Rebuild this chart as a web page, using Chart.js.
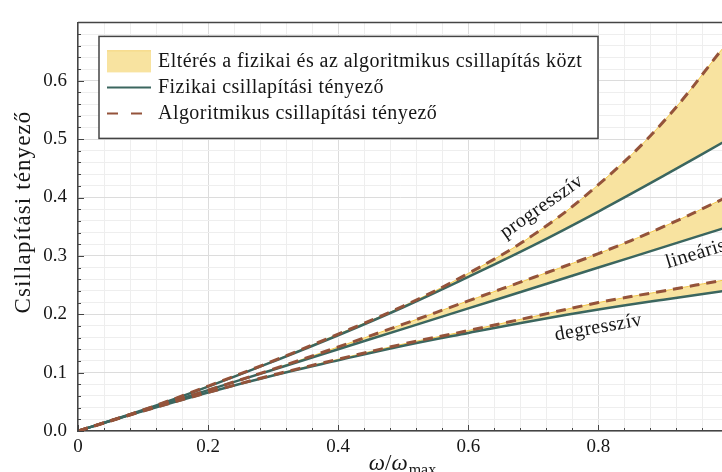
<!DOCTYPE html>
<html>
<head>
<meta charset="utf-8">
<script src="https://cdn.jsdelivr.net/npm/chart.js@4.4.0/dist/chart.umd.min.js"></script>
<style>
html, body { margin: 0; padding: 0; background: #fff; }
#wrap { width: 722px; height: 472px; }
</style>
</head>
<body>
<div id="wrap"><canvas id="chart" width="722" height="472"></canvas></div>
<script>
// omega / omega_max
var omega = [0, 0.1, 0.2, 0.3, 0.4, 0.5, 0.6, 0.7, 0.8, 0.9, 1.0];

// physical vs. algorithmic damping, three characteristics
var progPhys = [0, 0.036, 0.076, 0.119, 0.164, 0.212, 0.264, 0.318, 0.376, 0.437, 0.500];
var progAlg  = [0, 0.036, 0.077, 0.120, 0.166, 0.214, 0.270, 0.336, 0.422, 0.530, 0.668];
var linPhys  = [0, 0.035, 0.070, 0.105, 0.140, 0.175, 0.210, 0.245, 0.280, 0.315, 0.350];
var linAlg   = [0, 0.035, 0.070, 0.106, 0.144, 0.183, 0.223, 0.263, 0.304, 0.350, 0.402];
var degPhys  = [0, 0.034, 0.066, 0.095, 0.121, 0.146, 0.168, 0.189, 0.208, 0.225, 0.241];
var degAlg   = [0, 0.034, 0.066, 0.096, 0.123, 0.149, 0.172, 0.196, 0.220, 0.240, 0.260];

var curveNames = ['progresszív', 'lineáris', 'degresszív'];
// where each curve name sits: [x, y, angle in degrees]
var curveNamePos = [[0.713, 0.384, -35], [0.950, 0.303, -17], [0.800, 0.177, -10]];

var legendLabels = [
  'Eltérés a fizikai és az algoritmikus csillapítás közt',
  'Fizikai csillapítási tényező',
  'Algoritmikus csillapítási tényező'
];

var xLabelValues = [0, 0.2, 0.4, 0.6, 0.8];
var xLabelText = ['0', '0.2', '0.4', '0.6', '0.8'];
var yLabelValues = [0, 0.1, 0.2, 0.3, 0.4, 0.5, 0.6];
var yLabelText = ['0.0', '0.1', '0.2', '0.3', '0.4', '0.5', '0.6'];

var yTitle = 'Csillapítási tényező';

var SERIF = '"Liberation Serif", "DejaVu Serif", serif';
var PHYS_COLOR = '#3b665f';
var ALG_COLOR = '#94533a';
var BAND_COLOR = '#f8e3a0';
var BAND_EDGE = '#f2c649';
var AXIS_COLOR = '#444444';
var TEXT_COLOR = '#161616';

function toPoints(xs, ys) {
  var pts = [];
  for (var i = 0; i < xs.length; i++) {
    pts.push({x: xs[i], y: ys[i]});
  }
  return pts;
}

function stepTicks(max, step) {
  var list = [];
  var n = Math.round(max / step);
  for (var i = 0; i <= n; i++) {
    list.push({value: Math.round(i * step * 1000) / 1000});
  }
  return list;
}

function findLabel(value, values, texts) {
  for (var i = 0; i < values.length; i++) {
    if (Math.abs(values[i] - value) < 1e-6) return texts[i];
  }
  return '';
}

function isMajor(value, values) {
  for (var i = 0; i < values.length; i++) {
    if (Math.abs(values[i] - value) < 1e-6) return true;
  }
  return false;
}

function spacedText(ctx, text, x, y, spacing) {
  if ('letterSpacing' in ctx) {
    ctx.letterSpacing = spacing + 'px';
    ctx.fillText(text, x, y);
    ctx.letterSpacing = '0px';
  } else {
    ctx.fillText(text, x, y);
  }
}

var physSets = [progPhys, linPhys, degPhys];
var algSets = [progAlg, linAlg, degAlg];
var datasets = [];
var i;

for (i = 0; i < 3; i++) {
  datasets.push({
    label: legendLabels[1],
    data: toPoints(omega, physSets[i]),
    borderColor: PHYS_COLOR,
    borderWidth: 2.5,
    pointRadius: 0,
    fill: false,
    tension: 0.4,
    order: 1
  });
}
for (i = 0; i < 3; i++) {
  datasets.push({
    label: legendLabels[2],
    data: toPoints(omega, algSets[i]),
    borderColor: ALG_COLOR,
    borderWidth: 3,
    borderDash: [10, 7],
    pointRadius: 0,
    fill: false,
    tension: 0.4,
    order: 0
  });
}
for (i = 0; i < 3; i++) {
  datasets.push({
    label: legendLabels[0],
    data: toPoints(omega, algSets[i]),
    borderColor: BAND_EDGE,
    borderWidth: 1,
    backgroundColor: BAND_COLOR,
    pointRadius: 0,
    fill: {target: i, above: BAND_COLOR, below: BAND_COLOR},
    tension: 0.4,
    order: 2
  });
}

var decorations = {
  id: 'decorations',
  afterDraw: function(chart) {
    var ctx = chart.ctx;
    var area = chart.chartArea;
    var xs = chart.scales.x;
    var ys = chart.scales.y;
    var k;

    ctx.save();
    // inward tick marks
    ctx.strokeStyle = AXIS_COLOR;
    ctx.lineWidth = 1;
    ctx.beginPath();
    xs.ticks.forEach(function(t) {
      var px = Math.round(xs.getPixelForValue(t.value)) + 0.5;
      var len = isMajor(t.value, xLabelValues) ? 6 : 3;
      ctx.moveTo(px, area.bottom);
      ctx.lineTo(px, area.bottom - len);
    });
    ys.ticks.forEach(function(t) {
      var py = Math.round(ys.getPixelForValue(t.value)) + 0.5;
      var len = isMajor(t.value, yLabelValues) ? 6 : 3;
      ctx.moveTo(area.left, py);
      ctx.lineTo(area.left + len, py);
    });
    ctx.stroke();

    // top frame line
    ctx.lineWidth = 1.5;
    ctx.beginPath();
    ctx.moveTo(area.left, area.top);
    ctx.lineTo(area.right, area.top);
    ctx.stroke();

    // curve names
    ctx.fillStyle = TEXT_COLOR;
    ctx.font = '20px ' + SERIF;
    ctx.textAlign = 'center';
    ctx.textBaseline = 'middle';
    for (k = 0; k < curveNames.length; k++) {
      var p = curveNamePos[k];
      ctx.save();
      ctx.translate(xs.getPixelForValue(p[0]), ys.getPixelForValue(p[1]));
      ctx.rotate(p[2] * Math.PI / 180);
      spacedText(ctx, curveNames[k], 0, 0, 0.4);
      ctx.restore();
    }

    // legend
    var lx = area.left + 21, ly = area.top + 14, lw = 499, lh = 102;
    ctx.fillStyle = '#ffffff';
    ctx.fillRect(lx, ly, lw, lh);
    ctx.strokeStyle = AXIS_COLOR;
    ctx.lineWidth = 1.5;
    ctx.strokeRect(lx, ly, lw, lh);

    var rowY = [ly + 25, ly + 51, ly + 77];
    ctx.fillStyle = BAND_COLOR;
    ctx.fillRect(lx + 8, rowY[0] - 10, 44, 21);
    ctx.strokeStyle = BAND_EDGE;
    ctx.lineWidth = 1;
    ctx.beginPath();
    ctx.moveTo(lx + 8, rowY[0] - 10.5);
    ctx.lineTo(lx + 52, rowY[0] - 10.5);
    ctx.stroke();

    ctx.strokeStyle = PHYS_COLOR;
    ctx.lineWidth = 2;
    ctx.beginPath();
    ctx.moveTo(lx + 8, rowY[1]);
    ctx.lineTo(lx + 52, rowY[1]);
    ctx.stroke();

    ctx.strokeStyle = ALG_COLOR;
    ctx.setLineDash([11, 13]);
    ctx.beginPath();
    ctx.moveTo(lx + 8, rowY[2]);
    ctx.lineTo(lx + 52, rowY[2]);
    ctx.stroke();
    ctx.setLineDash([]);

    ctx.fillStyle = TEXT_COLOR;
    ctx.font = '20px ' + SERIF;
    ctx.textAlign = 'left';
    ctx.textBaseline = 'alphabetic';
    for (k = 0; k < legendLabels.length; k++) {
      spacedText(ctx, legendLabels[k], lx + 59, rowY[k] + 6, 0.45);
    }

    // axis titles
    ctx.font = '23px ' + SERIF;
    ctx.textAlign = 'center';
    ctx.save();
    ctx.translate(30, 212);
    ctx.rotate(-Math.PI / 2);
    spacedText(ctx, yTitle, 0, 0, 1.1);
    ctx.restore();

    var cx = (area.left + area.right) / 2 + 2;
    var base = 470;
    ctx.textAlign = 'left';
    ctx.font = 'italic 23px ' + SERIF;
    var w1 = ctx.measureText('ω').width;
    ctx.font = '23px ' + SERIF;
    var wSlash = ctx.measureText('/').width;
    ctx.font = '16px ' + SERIF;
    var wSub = ctx.measureText('max').width;
    var start = cx - (2 * w1 + wSlash + wSub) / 2;
    ctx.font = 'italic 23px ' + SERIF;
    ctx.fillText('ω', start, base);
    ctx.font = '23px ' + SERIF;
    ctx.fillText('/', start + w1, base);
    ctx.font = 'italic 23px ' + SERIF;
    ctx.fillText('ω', start + w1 + wSlash, base);
    ctx.font = '16px ' + SERIF;
    ctx.fillText('max', start + 2 * w1 + wSlash + 1, base + 5);
    ctx.restore();
  }
};

var chart = new Chart(document.getElementById('chart'), {
  type: 'line',
  data: { datasets: datasets },
  plugins: [decorations],
  options: {
    responsive: false,
    animation: false,
    devicePixelRatio: 1,
    layout: { padding: { top: 10, right: 0, bottom: 0, left: 0 } },
    plugins: {
      legend: { display: false },
      tooltip: { enabled: false },
      filler: { drawTime: 'beforeDatasetsDraw' }
    },
    scales: {
      x: {
        type: 'linear',
        min: 0,
        max: 0.99,
        afterBuildTicks: function(scale) { scale.ticks = stepTicks(0.96, 0.04); },
        afterFit: function(scale) { scale.height = 41; },
        grid: {
          drawTicks: false,
          color: function(c) { return c.tick && isMajor(c.tick.value, xLabelValues) ? '#dcdcdc' : '#eeeeee'; }
        },
        border: { display: true, color: AXIS_COLOR, width: 1.5 },
        ticks: {
          autoSkip: false,
          maxRotation: 0,
          padding: 5,
          color: TEXT_COLOR,
          font: { family: SERIF, size: 19 },
          callback: function(v) { return findLabel(v, xLabelValues, xLabelText); }
        }
      },
      y: {
        type: 'linear',
        min: 0,
        max: 0.70,
        afterBuildTicks: function(scale) { scale.ticks = stepTicks(0.70, 0.02); },
        afterFit: function(scale) { scale.width = 78; },
        grid: {
          drawTicks: false,
          color: function(c) { return c.tick && isMajor(c.tick.value, yLabelValues) ? '#dcdcdc' : '#eeeeee'; }
        },
        border: { display: true, color: AXIS_COLOR, width: 1.5 },
        ticks: {
          autoSkip: false,
          padding: 11,
          color: TEXT_COLOR,
          font: { family: SERIF, size: 19 },
          callback: function(v) { return findLabel(v, yLabelValues, yLabelText); }
        }
      }
    }
  }
});
</script>
</body>
</html>
